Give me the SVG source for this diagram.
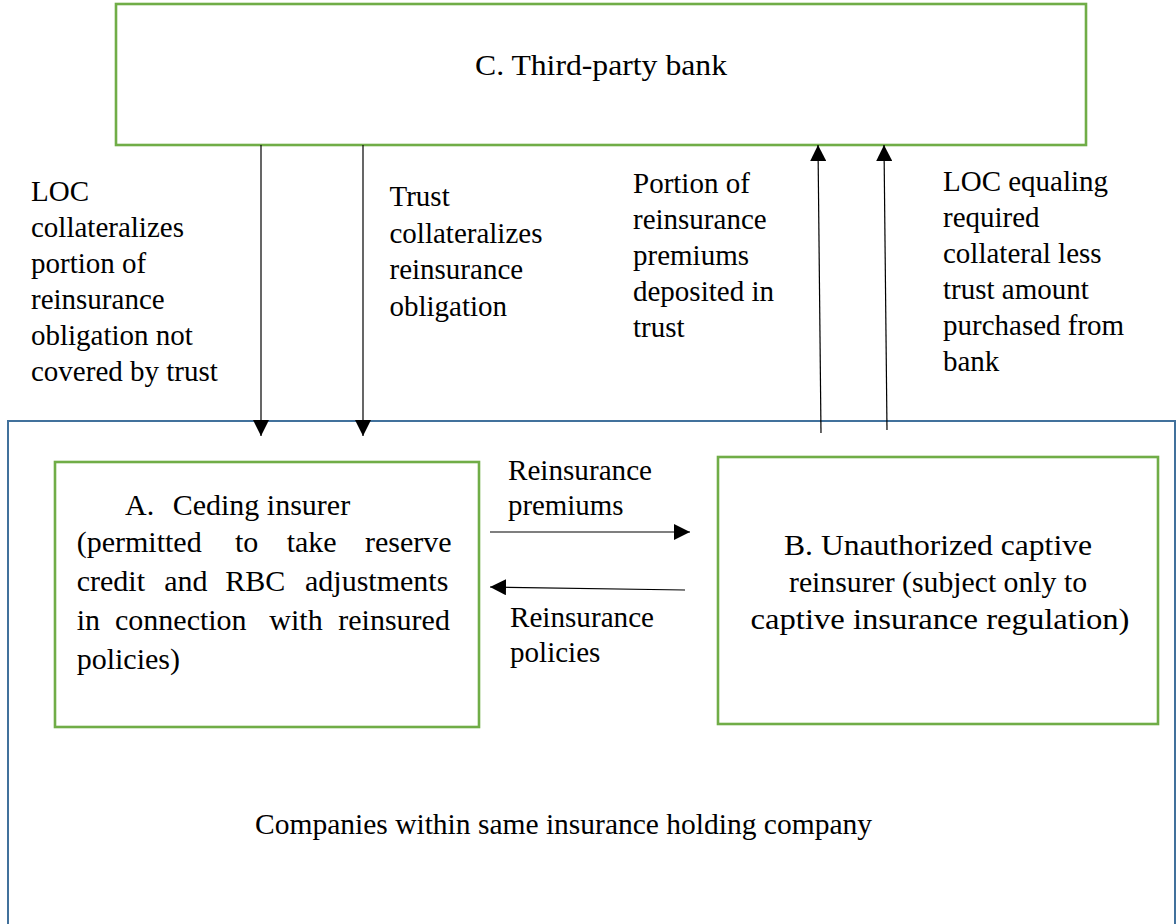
<svg xmlns="http://www.w3.org/2000/svg" width="1176" height="924" viewBox="0 0 1176 924">
<style>
  text { font-family: "Liberation Serif", "Times New Roman", serif; fill: #000; }
  .lbl { font-size: 29px; }
  .box { font-size: 30px; }
  .green { fill: #fff; stroke: #70AD47; stroke-width: 2.6; }
  .blue { fill: #fff; stroke: #41719C; stroke-width: 2; }
  .conn { stroke: #000; stroke-width: 1.2; fill: none; marker-end: url(#ah); }
</style>
<defs>
  <marker id="ah" markerUnits="userSpaceOnUse" markerWidth="16" markerHeight="16" viewBox="0 0 15 15" refX="15" refY="7.5" orient="auto">
    <path d="M0,0 L15,7.5 L0,15 Z" fill="#000"/>
  </marker>
</defs>
<rect width="1176" height="924" fill="#fff"/>

<g id="holding">
  <rect class="blue" x="8" y="421" width="1167" height="520"/>
  <text style="font-size:29px" x="255" y="834" textLength="617" lengthAdjust="spacingAndGlyphs">Companies within same insurance holding company</text>
</g>

<g id="nodeC">
  <rect class="green" x="116" y="4" width="970" height="141"/>
  <text class="box" x="601" y="75" text-anchor="middle" textLength="252" lengthAdjust="spacingAndGlyphs">C. Third-party bank</text>
</g>

<g id="nodeA">
  <rect class="green" x="55" y="462" width="424" height="265"/>
  <text class="box" y="515"><tspan x="125">A.</tspan><tspan x="172.7">Ceding insurer</tspan></text>
  <text class="box" y="552"><tspan x="76.7">(permitted</tspan><tspan x="235">to</tspan><tspan x="286.7">take</tspan><tspan x="365">reserve</tspan></text>
  <text class="box" y="591"><tspan x="76.7">credit</tspan><tspan x="164.3">and</tspan><tspan x="225.3">RBC</tspan><tspan x="305">adjustments</tspan></text>
  <text class="box" y="630"><tspan x="76.7">in</tspan><tspan x="115">connection</tspan><tspan x="269.3">with</tspan><tspan x="338.3">reinsured</tspan></text>
  <text class="box" y="668.5"><tspan x="76.7">policies)</tspan></text>
</g>

<g id="nodeB">
  <rect class="green" x="718" y="457" width="440" height="267"/>
  <text class="box" x="938" y="555" text-anchor="middle" textLength="308" lengthAdjust="spacingAndGlyphs">B. Unauthorized captive</text>
  <text class="box" x="938" y="592" text-anchor="middle" textLength="298" lengthAdjust="spacingAndGlyphs">reinsurer (subject only to</text>
  <text class="box" x="940" y="628.5" text-anchor="middle" textLength="379" lengthAdjust="spacingAndGlyphs">captive insurance regulation)</text>
</g>

<g id="connectors">
  <line class="conn" x1="261" y1="145" x2="261" y2="436"/>
  <line class="conn" x1="363" y1="145" x2="363" y2="436"/>
  <line class="conn" x1="821" y1="433" x2="818" y2="145"/>
  <line class="conn" x1="887" y1="430" x2="884" y2="145"/>
  <line class="conn" x1="490" y1="532" x2="690" y2="532"/>
  <line class="conn" x1="685" y1="590" x2="490" y2="587"/>
</g>

<g id="labels">
  <text class="lbl">
    <tspan x="31" y="200.5">LOC</tspan>
    <tspan x="31" y="236.5">collateralizes</tspan>
    <tspan x="31" y="272.5">portion of</tspan>
    <tspan x="31" y="308.5">reinsurance</tspan>
    <tspan x="31" y="344.5">obligation not</tspan>
    <tspan x="31" y="380.5">covered by trust</tspan>
  </text>
  <text class="lbl">
    <tspan x="389.5" y="206">Trust</tspan>
    <tspan x="389.5" y="242.5">collateralizes</tspan>
    <tspan x="389.5" y="279">reinsurance</tspan>
    <tspan x="389.5" y="315.5">obligation</tspan>
  </text>
  <text class="lbl">
    <tspan x="633" y="192.5">Portion of</tspan>
    <tspan x="633" y="228.6">reinsurance</tspan>
    <tspan x="633" y="264.7">premiums</tspan>
    <tspan x="633" y="300.8">deposited in</tspan>
    <tspan x="633" y="336.9">trust</tspan>
  </text>
  <text class="lbl">
    <tspan x="943" y="190.5">LOC equaling</tspan>
    <tspan x="943" y="226.5">required</tspan>
    <tspan x="943" y="262.5">collateral less</tspan>
    <tspan x="943" y="298.5">trust amount</tspan>
    <tspan x="943" y="334.5">purchased from</tspan>
    <tspan x="943" y="370.5">bank</tspan>
  </text>
  <text style="font-size:28.5px" x="508" y="480" textLength="144" lengthAdjust="spacingAndGlyphs">Reinsurance</text>
  <text style="font-size:28.5px" x="508" y="515" textLength="115.5" lengthAdjust="spacingAndGlyphs">premiums</text>
  <text style="font-size:28.5px" x="510" y="626.7" textLength="144" lengthAdjust="spacingAndGlyphs">Reinsurance</text>
  <text style="font-size:28.5px" x="510" y="661.7" textLength="90.4" lengthAdjust="spacingAndGlyphs">policies</text>
</g>
</svg>
